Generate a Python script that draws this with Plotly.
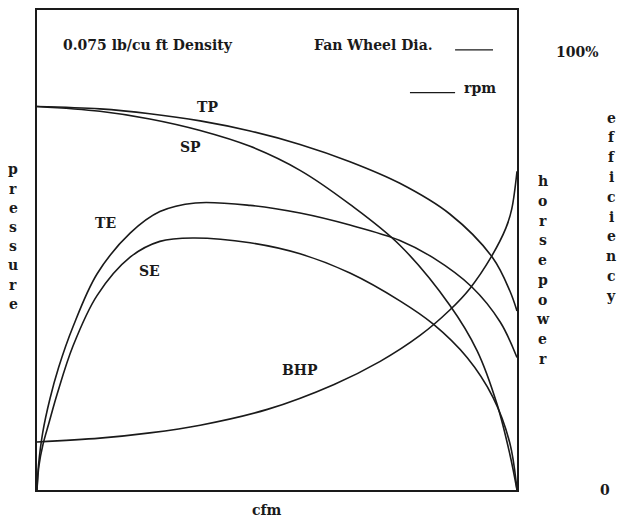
import plotly.graph_objects as go

# Data in percent of chart range (x: cfm 0-100, y: 0-100)
tp_x = [0, 13.1, 23.5, 34.0, 44.4, 54.8, 65.2, 75.6, 86.0, 95.0, 98.5, 100]
tp_y = [79.9, 79.4, 78.4, 76.9, 74.8, 72.0, 68.4, 63.9, 57.5, 48.3, 41.5, 37.3]

sp_x = [0, 13.1, 23.5, 34.0, 44.4, 54.8, 65.2, 75.6, 86.0, 91.7, 95.8, 98.5, 100]
sp_y = [79.9, 78.9, 77.3, 74.9, 71.6, 66.6, 59.5, 51.0, 38.5, 29.0, 18.0, 7.5, 0]

te_x = [0, 0.3, 1.2, 2.7, 4.5, 7.5, 12.5, 19.4, 25.6, 33.0, 44.4, 54.8, 65.2, 75.6, 82.5, 90.6, 96.5, 100]
te_y = [0, 5.0, 12.0, 19.0, 25.5, 34.0, 45.0, 53.5, 58.0, 59.8, 59.3, 57.7, 55.2, 52.0, 48.4, 42.3, 35.0, 27.6]

se_x = [0, 0.4, 1.25, 2.5, 4.2, 7.5, 12.5, 19.4, 25.6, 32.5, 44.4, 54.8, 65.2, 75.6, 82.5, 89.6, 95.0, 98.5, 100]
se_y = [0, 5.0, 9.5, 14.0, 20.0, 30.0, 40.5, 48.5, 51.8, 52.5, 51.5, 49.2, 45.2, 39.4, 34.6, 27.6, 19.3, 9.8, 0]

bhp_x = [0, 13.1, 23.5, 34.0, 48.0, 61.9, 71.5, 79.8, 86.0, 90.2, 94.6, 97.7, 98.9, 100]
bhp_y = [10.0, 10.8, 11.9, 13.5, 16.8, 22.0, 26.8, 32.2, 37.5, 42.0, 48.5, 54.6, 58.5, 66.4]

curve_labels = ["TP", "SP", "TE", "SE", "BHP"]

FONT = "DejaVu Serif"
FS = 14
INK = "#1a1a1a"
fig = go.Figure()
for xs, ys in [(tp_x, tp_y), (sp_x, sp_y), (te_x, te_y), (se_x, se_y), (bhp_x, bhp_y)]:
    fig.add_trace(go.Scatter(x=xs, y=ys, mode="lines",
                             line=dict(color=INK, width=1.6, shape="spline", smoothing=1.0),
                             hoverinfo="skip", showlegend=False))

ax = dict(range=[0, 100], showgrid=False, zeroline=False, showticklabels=False,
          ticks="", showline=True, linecolor=INK, linewidth=1.5, mirror=True, fixedrange=True)
fig.update_layout(
    width=617, height=520,
    margin=dict(l=37, r=100, t=8, b=30),
    paper_bgcolor="white", plot_bgcolor="white",
    xaxis=ax, yaxis=ax,
    font=dict(family=FONT, size=FS, color=INK),
)

def ann(text, x, y, xanchor="center", size=FS):
    fig.add_annotation(text=text, x=x, y=y, xref="paper", yref="paper",
                       xanchor=xanchor, yanchor="middle", showarrow=False,
                       font=dict(family=FONT, size=size, color=INK, weight="bold"))

ann("0.075 lb/cu ft Density", 0.05, 0.927, "left")
ann("Fan Wheel Dia.", 0.573, 0.927, "left")
ann("rpm", 0.885, 0.838, "left")
label_pos = [(0.356, 0.797), (0.319, 0.714), (0.142, 0.556), (0.235, 0.456), (0.548, 0.249)]
for t, (px, py) in zip(curve_labels, label_pos):
    ann(t, px, py)
ann("cfm", 0.479, -0.041)
ann("100%", 1.127, 0.913)
ann("0", 1.183, 0.0)

# vertical stacked-letter axis words: (word, paper x, first-letter y px, spacing px)
PLOT_H = 482
for word, xp, y0, step in [("pressure", -0.05, 168, 19.3),
                           ("horsepower", 1.054, 180, 19.8),
                           ("efficiency", 1.196, 116, 19.9)]:
    for i, ch in enumerate(word):
        ypx = y0 + i * step
        ann(ch, xp, (490 - ypx) / PLOT_H)

fig.add_shape(type="line", xref="paper", yref="paper", x0=0.871, x1=0.95, y0=0.917, y1=0.917,
              line=dict(color=INK, width=1.3))
fig.add_shape(type="line", xref="paper", yref="paper", x0=0.777, x1=0.871, y0=0.828, y1=0.828,
              line=dict(color=INK, width=1.3))

fig.write_html("out.html", config={"displayModeBar": False},
               post_script="document.body.style.margin='0';")
